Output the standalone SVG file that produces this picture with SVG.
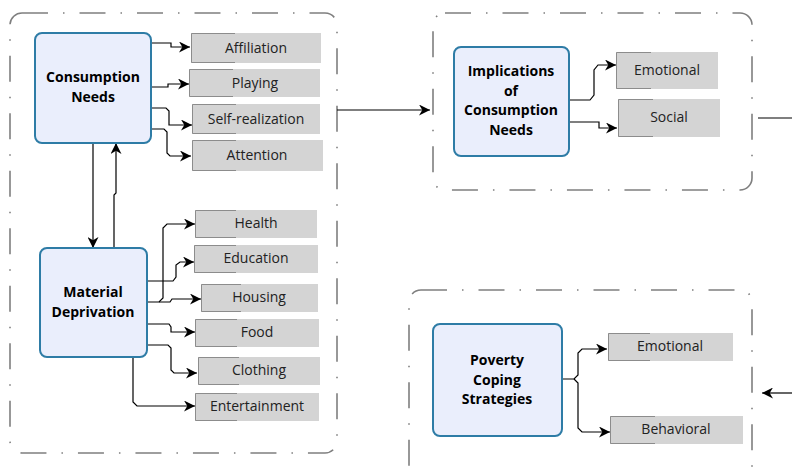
<svg xmlns="http://www.w3.org/2000/svg" width="792" height="468" viewBox="0 0 792 468">
  <defs>
    <marker id="arrow" viewBox="0 0 10 10" refX="10" refY="5" markerWidth="12" markerHeight="11" markerUnits="userSpaceOnUse" orient="auto">
      <path d="M0,0 L10,5 L0,10 L3,5 Z" fill="#000"/>
    </marker>
    <style>
      .group { fill: none; stroke: #7f7f7f; stroke-width: 1.6; stroke-dasharray: 26 15 1.5 15; }
      .main { fill: #eaeefc; stroke: #2e7ca6; stroke-width: 2; }
      .title { font-family: "Open Sans", "Noto Sans", sans-serif; font-size: 14px; font-weight: bold; fill: #000; text-anchor: middle; }
      .leaf { fill: #d4d4d4; }
      .edge { fill: none; stroke: #8c8c8c; stroke-width: 1; }
      .label { font-family: "Open Sans", "Noto Sans", sans-serif; font-size: 14px; fill: #222; text-anchor: middle; }
      .conn { fill: none; stroke: #000; stroke-width: 1.2; marker-end: url(#arrow); }
      .plain { fill: none; stroke: #000; stroke-width: 1.2; }
    </style>
  </defs>
  <rect width="792" height="468" fill="#fff"/>

  <!-- dash-dot grouping frames -->
  <g id="frames">
    <rect class="group" x="10" y="13" width="327" height="440" rx="12"/>
    <rect class="group" x="433" y="13" width="319" height="177" rx="12"/>
    <rect class="group" x="409" y="290" width="343" height="190" rx="12"/>
  </g>

  <!-- connectors -->
  <g id="connectors">
    <path class="conn" d="M151,43 H171 V47 H190"/>
    <path class="conn" d="M151,87 H168 V84 H189"/>
    <path class="conn" d="M151,108 H166 L169,111 V125 H192"/>
    <path class="conn" d="M151,129 H164 L167,132 V153 L170,156 H191"/>
    <path class="conn" d="M93,143 V248"/>
    <path class="conn" d="M114,248 V195 L116,193 V143"/>
    <path class="conn" d="M147,302 H159 L163,298 V228 L167,224 H195"/>
    <path class="conn" d="M147,281 H173 L176,277 V265 L180,262 H194"/>
    <path class="conn" d="M159,302 H170 L172,299 H201"/>
    <path class="conn" d="M147,324 H169 L171,327 V332 H195"/>
    <path class="conn" d="M147,345 H168 L171,348 V370 L174,373 H197"/>
    <path class="conn" d="M133,357 V402 L137,406 H195"/>
    <path class="conn" d="M337,110 H430"/>
    <path class="conn" d="M569,100 H590 L594,95 V70 L598,65 H616"/>
    <path class="conn" d="M569,122 H599 V128 H617"/>
    <path class="plain" d="M758,118 H792"/>
    <path class="conn" d="M562,379 H574 L578,375 V353 L582,349 H607"/>
    <path class="conn" d="M574,379 L578,383 V428 L582,432 H610"/>
    <path class="conn" d="M792,393 H762"/>
  </g>

  <!-- main nodes -->
  <g id="consumption-needs">
    <rect class="main" x="35" y="33" width="116" height="110" rx="7"/>
    <text class="title" x="93" y="82">Consumption</text>
    <text class="title" x="93" y="102">Needs</text>
  </g>
  <g id="material-deprivation">
    <rect class="main" x="40" y="248" width="107" height="109" rx="7"/>
    <text class="title" x="93" y="297">Material</text>
    <text class="title" x="93" y="317">Deprivation</text>
  </g>
  <g id="implications">
    <rect class="main" x="454" y="47" width="115" height="109" rx="7"/>
    <text class="title" x="511" y="76">Implications</text>
    <text class="title" x="511" y="96">of</text>
    <text class="title" x="511" y="115">Consumption</text>
    <text class="title" x="511" y="135">Needs</text>
  </g>
  <g id="coping-strategies">
    <rect class="main" x="433" y="324" width="129" height="112" rx="7"/>
    <text class="title" x="497" y="365">Poverty</text>
    <text class="title" x="497" y="385">Coping</text>
    <text class="title" x="497" y="404">Strategies</text>
  </g>

  <!-- leaf nodes -->
  <g id="affiliation">
    <rect class="leaf" x="191" y="33" width="130" height="30"/>
    <path class="edge" d="M235,33.5 H191.5 V62.5 H235"/>
    <text class="label" x="256" y="53">Affiliation</text>
  </g>
  <g id="playing">
    <rect class="leaf" x="189" y="69" width="131" height="28"/>
    <path class="edge" d="M233,69.5 H189.5 V96.5 H233"/>
    <text class="label" x="255" y="88">Playing</text>
  </g>
  <g id="self-realization">
    <rect class="leaf" x="192" y="104" width="128" height="30"/>
    <path class="edge" d="M236,104.5 H192.5 V133.5 H236"/>
    <text class="label" x="256" y="124">Self-realization</text>
  </g>
  <g id="attention">
    <rect class="leaf" x="192" y="140" width="131" height="31"/>
    <path class="edge" d="M236,140.5 H192.5 V170.5 H236"/>
    <text class="label" x="257" y="160">Attention</text>
  </g>
  <g id="health">
    <rect class="leaf" x="195" y="210" width="122" height="28"/>
    <path class="edge" d="M236,210.5 H195.5 V237.5 H236"/>
    <text class="label" x="256" y="228">Health</text>
  </g>
  <g id="education">
    <rect class="leaf" x="194" y="245" width="124" height="28"/>
    <path class="edge" d="M236,245.5 H194.5 V272.5 H236"/>
    <text class="label" x="256" y="263">Education</text>
  </g>
  <g id="housing">
    <rect class="leaf" x="201" y="284" width="117" height="28"/>
    <path class="edge" d="M241,284.5 H201.5 V311.5 H241"/>
    <text class="label" x="259" y="302">Housing</text>
  </g>
  <g id="food">
    <rect class="leaf" x="195" y="319" width="124" height="28"/>
    <path class="edge" d="M237,319.5 H195.5 V346.5 H237"/>
    <text class="label" x="257" y="337">Food</text>
  </g>
  <g id="clothing">
    <rect class="leaf" x="198" y="357" width="122" height="28"/>
    <path class="edge" d="M239,357.5 H198.5 V384.5 H239"/>
    <text class="label" x="259" y="375">Clothing</text>
  </g>
  <g id="entertainment">
    <rect class="leaf" x="195" y="393" width="124" height="28"/>
    <path class="edge" d="M237,393.5 H195.5 V420.5 H237"/>
    <text class="label" x="257" y="411">Entertainment</text>
  </g>
  <g id="emotional-implication">
    <rect class="leaf" x="616" y="52" width="102" height="37"/>
    <path class="edge" d="M651,52.5 H616.5 V88.5 H651"/>
    <text class="label" x="667" y="75">Emotional</text>
  </g>
  <g id="social-implication">
    <rect class="leaf" x="618" y="99" width="102" height="38"/>
    <path class="edge" d="M653,99.5 H618.5 V136.5 H653"/>
    <text class="label" x="669" y="122">Social</text>
  </g>
  <g id="emotional-coping">
    <rect class="leaf" x="608" y="333" width="125" height="28"/>
    <path class="edge" d="M650,333.5 H608.5 V360.5 H650"/>
    <text class="label" x="670" y="351">Emotional</text>
  </g>
  <g id="behavioral-coping">
    <rect class="leaf" x="610" y="416" width="133" height="28"/>
    <path class="edge" d="M655,416.5 H610.5 V443.5 H655"/>
    <text class="label" x="676" y="434">Behavioral</text>
  </g>
</svg>
